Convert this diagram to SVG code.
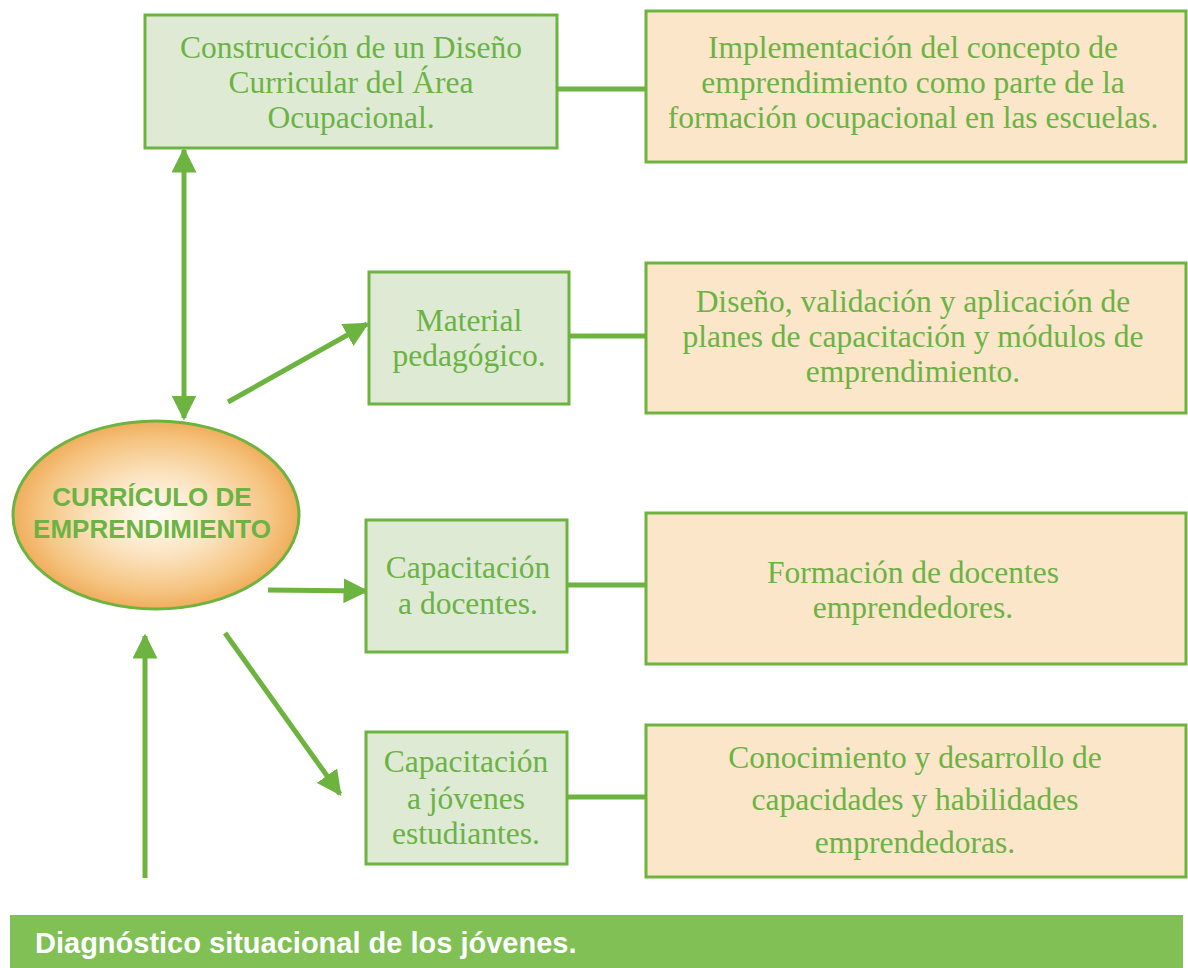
<svg xmlns="http://www.w3.org/2000/svg" width="1188" height="968" viewBox="0 0 1188 968">
<defs>
<radialGradient id="eg" cx="50%" cy="50%" r="50%">
<stop offset="0" stop-color="#fffdf8"/>
<stop offset="0.45" stop-color="#fbe2bd"/>
<stop offset="0.82" stop-color="#f5c37f"/>
<stop offset="1" stop-color="#f0ad5c"/>
</radialGradient>
<marker id="ah" viewBox="0 0 10 10" refX="9" refY="5" markerWidth="5" markerHeight="5" markerUnits="strokeWidth" orient="auto-start-reverse">
<path d="M0,0 L10,5 L0,10 Z" fill="#6db33f"/>
</marker>
<style>
.gbox{fill:#dfead5;stroke:#6db33f;stroke-width:3}
.obox{fill:#fbe6c9;stroke:#6db33f;stroke-width:3}
.t{font-family:"Liberation Serif","Times New Roman",serif;font-size:31.5px;fill:#6ab344;text-anchor:middle}
.b{font-family:"Liberation Sans",Arial,sans-serif;font-weight:bold}
.line{stroke:#6db33f;stroke-width:5;fill:none}
.arr{stroke:#6db33f;stroke-width:5;fill:none;marker-end:url(#ah)}
</style>
</defs>
<rect width="1188" height="968" fill="#ffffff"/>
<g id="connectors">
<line class="line" x1="557" y1="89" x2="646" y2="89"/>
<line class="line" x1="569" y1="336" x2="646" y2="336"/>
<line class="line" x1="567" y1="585" x2="646" y2="585"/>
<line class="line" x1="567" y1="797" x2="646" y2="797"/>
<line class="arr" x1="184" y1="150" x2="184" y2="418" style="marker-start:url(#ah)"/>
<line class="arr" x1="228" y1="402" x2="367" y2="324"/>
<line class="arr" x1="268" y1="590" x2="366" y2="591"/>
<line class="arr" x1="225" y1="633" x2="340" y2="794"/>
<line class="arr" x1="145" y1="878" x2="145" y2="636"/>
</g>
<g id="n-construccion">
<rect class="gbox" x="145" y="15" width="412" height="133"/>
<text class="t" x="351" y="58">Construcción de un Diseño</text>
<text class="t" x="351" y="93">Curricular del Área</text>
<text class="t" x="351" y="128">Ocupacional.</text>
</g>
<g id="n-implementacion">
<rect class="obox" x="646" y="11" width="540" height="151"/>
<text class="t" x="913" y="58">Implementación del concepto de</text>
<text class="t" x="913" y="93">emprendimiento como parte de la</text>
<text class="t" x="913" y="128">formación ocupacional en las escuelas.</text>
</g>
<g id="n-material">
<rect class="gbox" x="369" y="272" width="200" height="132"/>
<text class="t" x="469" y="331">Material</text>
<text class="t" x="469" y="366">pedagógico.</text>
</g>
<g id="n-diseno">
<rect class="obox" x="646" y="263" width="540" height="150"/>
<text class="t" x="913" y="312">Diseño, validación y aplicación de</text>
<text class="t" x="913" y="347">planes de capacitación y módulos de</text>
<text class="t" x="913" y="382">emprendimiento.</text>
</g>
<g id="n-cap-docentes">
<rect class="gbox" x="366" y="520" width="201" height="132"/>
<text class="t" x="468" y="578">Capacitación</text>
<text class="t" x="468" y="614">a docentes.</text>
</g>
<g id="n-formacion">
<rect class="obox" x="646" y="513" width="540" height="151"/>
<text class="t" x="913" y="583">Formación de docentes</text>
<text class="t" x="913" y="618">emprendedores.</text>
</g>
<g id="n-cap-jovenes">
<rect class="gbox" x="366" y="732" width="201" height="132"/>
<text class="t" x="466" y="772">Capacitación</text>
<text class="t" x="466" y="809">a jóvenes</text>
<text class="t" x="466" y="844">estudiantes.</text>
</g>
<g id="n-conocimiento">
<rect class="obox" x="646" y="725" width="540" height="152"/>
<text class="t" x="915" y="768">Conocimiento y desarrollo de</text>
<text class="t" x="915" y="810">capacidades y habilidades</text>
<text class="t" x="915" y="853">emprendedoras.</text>
</g>
<g id="n-curriculo">
<ellipse cx="156" cy="515" rx="143" ry="94" fill="url(#eg)" stroke="#6db33f" stroke-width="3"/>
<text class="b" x="152" y="506" font-size="26" fill="#6ab344" text-anchor="middle">CURRÍCULO DE</text>
<text class="b" x="152" y="538" font-size="26" fill="#6ab344" text-anchor="middle">EMPRENDIMIENTO</text>
</g>
<g id="n-diagnostico">
<rect x="10" y="915" width="1173" height="53" fill="#80c055"/>
<text class="b" x="35" y="953" font-size="29" fill="#ffffff">Diagnóstico situacional de los jóvenes.</text>
</g>
</svg>
